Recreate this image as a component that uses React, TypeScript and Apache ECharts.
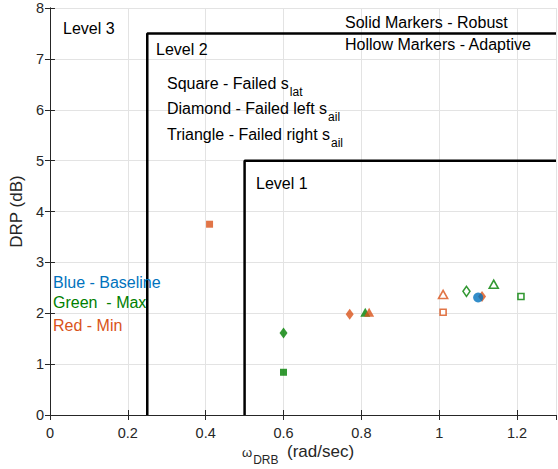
import React, { useEffect, useRef } from "react";
import * as echarts from "echarts";

// Axis ranges and ticks
const xTicks = [0, 0.2, 0.4, 0.6, 0.8, 1, 1.2];
const xRange = [0, 1.3];
const yRange = [0, 8];

// Handling-quality level boundaries
const level2Boundary = [[0.25, 0], [0.25, 7.5], [1.3, 7.5]];
const level1Boundary = [[0.5, 0], [0.5, 5], [1.3, 5]];

// Baseline design
const baselineCircle = [[1.1, 2.31]];

// Robust controllers (solid markers)
const robustMinSquare = [[0.41, 3.75]];
const robustMaxSquare = [[0.6, 0.84]];
const robustMaxDiamond = [[0.6, 1.61]];
const robustMinDiamond = [[0.77, 1.98], [1.11, 2.33]];
const robustMaxTriangle = [[0.81, 2.02]];
const robustMinTriangle = [[0.82, 2.02]];

// Adaptive controllers (hollow markers)
const adaptiveMinTriangle = [[1.01, 2.37]];
const adaptiveMinSquare = [[1.01, 2.02]];
const adaptiveMaxDiamond = [[1.07, 2.43]];
const adaptiveMaxTriangle = [[1.14, 2.57]];
const adaptiveMaxSquare = [[1.21, 2.33]];

const BLUE = "#0072BD";
const GREEN = "#008000";
const RED = "#D95319";
const FONT = "'Liberation Sans', Arial, Helvetica, sans-serif";
const AXIS = "#262626";
const NOTE_SIZE = 16;
const SUB_SIZE = 12;

const TRI = "path://M0,10 L5,0 L10,10 Z";

let measureCtx: CanvasRenderingContext2D | null = null;
function textWidth(text: string, size: number) {
  if (!measureCtx) measureCtx = document.createElement("canvas").getContext("2d");
  if (!measureCtx) return text.length * size * 0.5;
  measureCtx.font = `${size}px ${FONT}`;
  return measureCtx.measureText(text).width;
}

function marker(
  name: string,
  data: number[][],
  symbol: string,
  size: number | number[],
  color: string,
  hollow: boolean
) {
  return {
    name,
    type: "scatter",
    data,
    symbol,
    symbolSize: size,
    z: 5,
    itemStyle: hollow
      ? { color: "#ffffff", borderColor: color, borderWidth: 1.6 }
      : { color },
  };
}

function boundary(name: string, data: number[][]) {
  return {
    name,
    type: "line",
    data,
    symbol: "none",
    z: 3,
    lineStyle: { color: "#000000", width: 2.5 },
  };
}

function label(x: number, y: number, text: string, color = "#000000", size = NOTE_SIZE) {
  return {
    type: "text",
    x,
    y,
    z: 10,
    style: {
      text,
      fill: color,
      font: `${size}px ${FONT}`,
      verticalAlign: "middle",
    },
  };
}

// Text followed by a subscript
function subLabel(x: number, y: number, main: string, sub: string, size = NOTE_SIZE, subSize = SUB_SIZE, drop = 9, color = "#000000") {
  const w = textWidth(main, size);
  return {
    type: "group",
    children: [label(x, y, main, color, size), label(x + w + 1, y + drop, sub, color, subSize)],
  };
}

export default function App() {
  const ref = useRef<HTMLDivElement>(null);

  useEffect(() => {
    document.body.style.margin = "0";
    if (!ref.current) return;
    const chart = echarts.init(ref.current, undefined, { renderer: "svg" });

    const valueAxisCommon = {
      type: "value",
      axisLine: { show: true, lineStyle: { color: AXIS, width: 1 } },
      axisTick: { show: true, inside: true, length: 5, lineStyle: { color: AXIS } },
      splitLine: { show: true, lineStyle: { color: "#e3e3e3", width: 1 } },
    };

    const omegaW = textWidth("\u03c9", 13);

    chart.setOption({
      animation: false,
      backgroundColor: "#ffffff",
      textStyle: { fontFamily: FONT },
      grid: { left: 48, right: 2, top: 8, bottom: 54, containLabel: false },
      xAxis: [
        {
          ...valueAxisCommon,
          min: xRange[0],
          max: xRange[1],
          interval: xTicks[1] - xTicks[0],
          axisLabel: {
            color: AXIS,
            fontSize: 14.5,
            fontFamily: FONT,
            margin: 10,
            showMaxLabel: false,
          },
        },
        {
          ...valueAxisCommon,
          position: "top",
          min: xRange[0],
          max: xRange[1],
          interval: xTicks[1] - xTicks[0],
          axisLabel: { show: false },
          splitLine: { show: false },
        },
      ],
      yAxis: [
        {
          ...valueAxisCommon,
          min: yRange[0],
          max: yRange[1],
          interval: 1,
          name: "DRP (dB)",
          nameLocation: "middle",
          nameGap: 17,
          nameTextStyle: { color: AXIS, fontSize: 17, fontFamily: FONT },
          axisLabel: { color: AXIS, fontSize: 14.5, fontFamily: FONT, margin: 6 },
        },
        {
          ...valueAxisCommon,
          position: "right",
          min: yRange[0],
          max: yRange[1],
          interval: 1,
          axisLabel: { show: false },
          splitLine: { show: false },
        },
      ],
      series: [
        boundary("Level 2 boundary", level2Boundary),
        boundary("Level 1 boundary", level1Boundary),
        marker("Robust Min square", robustMinSquare, "rect", 7, RED, false),
        marker("Robust Max square", robustMaxSquare, "rect", 7, GREEN, false),
        marker("Robust Max diamond", robustMaxDiamond, "diamond", [8, 11], GREEN, false),
        marker("Robust Min diamond", robustMinDiamond, "diamond", [8, 11], RED, false),
        marker("Robust Max triangle", robustMaxTriangle, TRI, [10, 9], GREEN, false),
        marker("Robust Min triangle", robustMinTriangle, TRI, [10, 9], RED, false),
        marker("Adaptive Min triangle", adaptiveMinTriangle, TRI, [9, 8], RED, true),
        marker("Adaptive Min square", adaptiveMinSquare, "rect", 6, RED, true),
        marker("Adaptive Max diamond", adaptiveMaxDiamond, "diamond", [7, 10], GREEN, true),
        marker("Adaptive Max triangle", adaptiveMaxTriangle, TRI, [9, 8], GREEN, true),
        marker("Adaptive Max square", adaptiveMaxSquare, "rect", 6, GREEN, true),
        marker("Baseline", baselineCircle, "circle", 10, BLUE, false),
      ],
      graphic: [
        label(63, 28, "Level 3"),
        label(156, 49, "Level 2"),
        label(256, 183, "Level 1"),
        label(345, 22, "Solid Markers - Robust"),
        label(345, 44, "Hollow Markers - Adaptive"),
        subLabel(167, 83, "Square - Failed s", "lat"),
        subLabel(167, 108, "Diamond - Failed left s", "ail"),
        subLabel(167, 134, "Triangle - Failed right s", "ail"),
        label(53, 282, "Blue - Baseline", BLUE),
        label(53, 302, "Green  - Max", GREEN),
        label(53, 325, "Red - Min", RED),
        // x-axis title: omega with DRB subscript
        label(242, 452, "\u03c9", AXIS, 13),
        label(242 + omegaW + 1, 460, "DRB", AXIS, 12),
        label(287, 451, "(rad/sec)", AXIS, 17),
      ],
    });

    return () => chart.dispose();
  }, []);

  return <div ref={ref} style={{ width: 558, height: 469 }} />;
}
